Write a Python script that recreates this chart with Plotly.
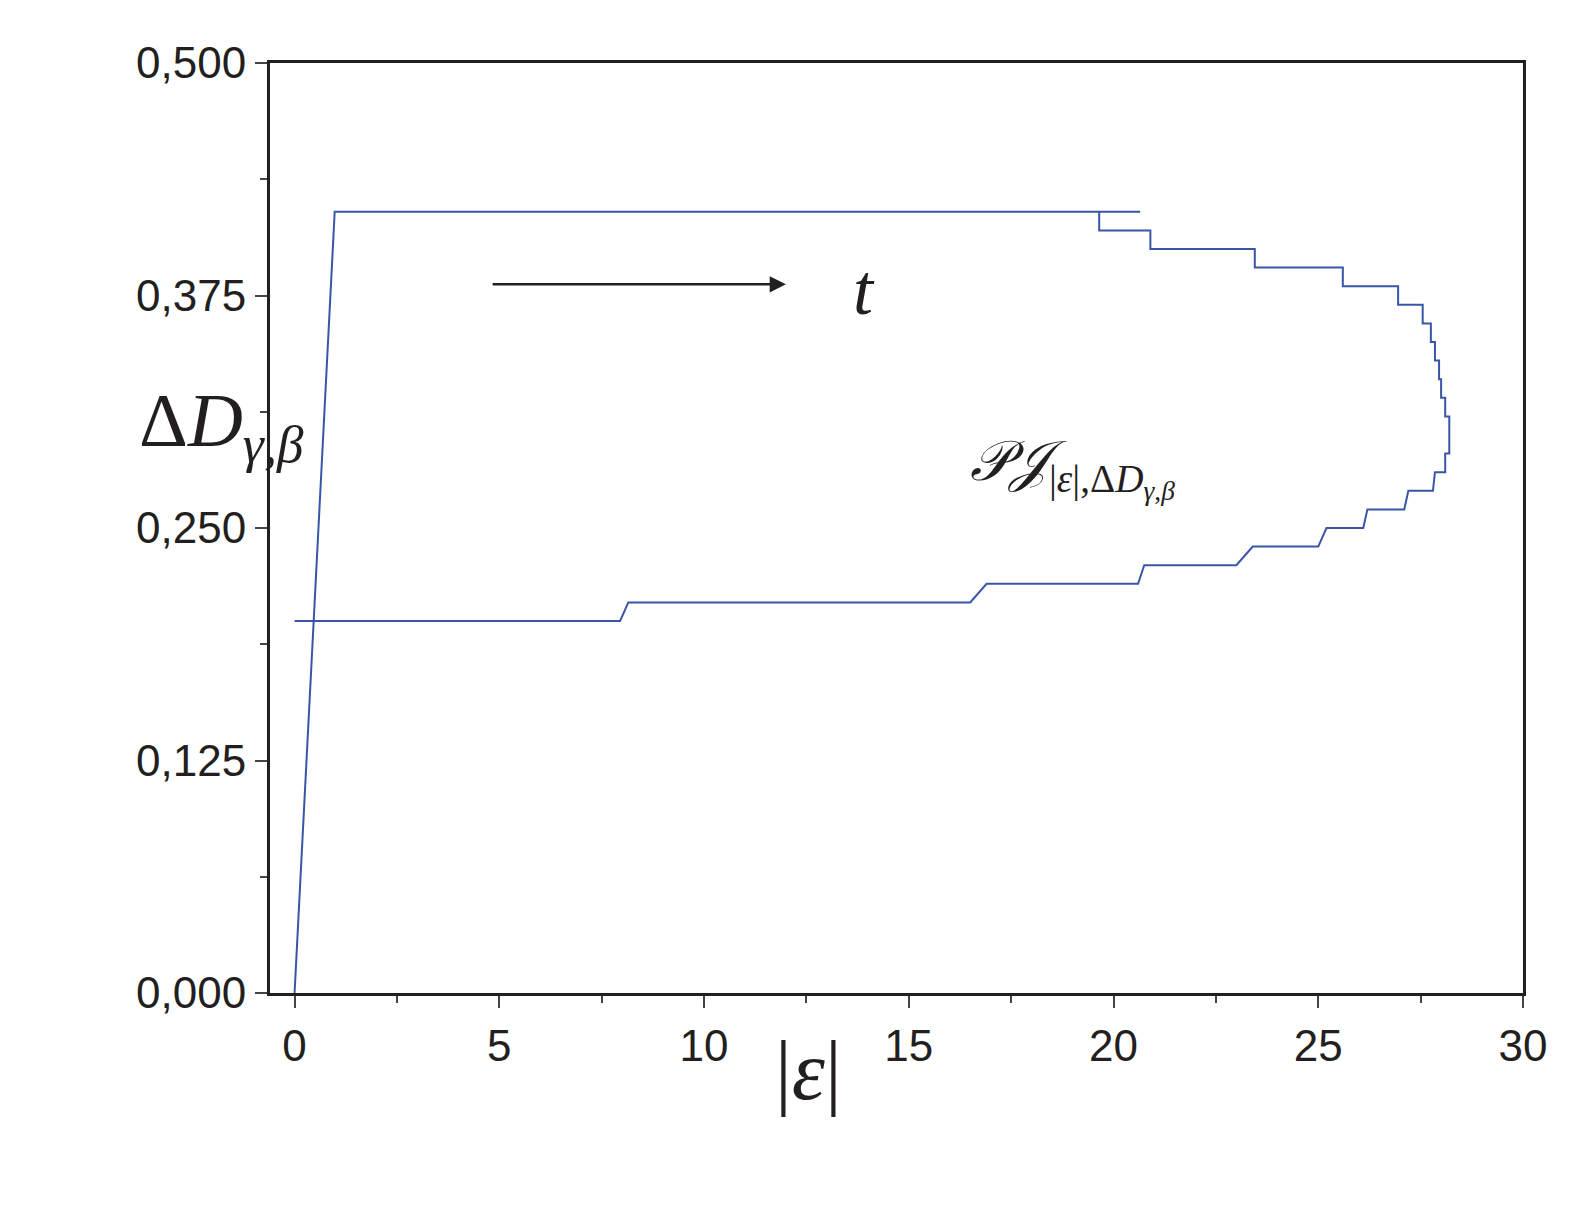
import plotly.graph_objects as go

# main rise + top plateau
rise_x = [0.0, 0.98, 20.65]
rise_y = [0.0, 0.42, 0.42]

# step path (top right, around, then back to left)
step_x = [19.65, 19.65, 20.9, 20.9, 23.45, 23.45, 25.6, 25.6, 26.95, 26.95, 27.55, 27.55,
          27.75, 27.75, 27.85, 27.85, 27.95, 27.95, 28.0, 28.0, 28.1, 28.1, 28.2, 28.2,
          28.1, 28.1, 27.85, 27.8, 27.2, 27.1, 26.2, 26.1, 25.2, 25.0, 23.4, 23.0,
          20.75, 20.6, 16.9, 16.5, 8.15, 7.95, 0.0]
step_y = [0.42, 0.41, 0.41, 0.40, 0.40, 0.39, 0.39, 0.38, 0.38, 0.37, 0.37, 0.36,
          0.36, 0.35, 0.35, 0.34, 0.34, 0.33, 0.33, 0.32, 0.32, 0.31, 0.31, 0.29,
          0.29, 0.28, 0.28, 0.27, 0.27, 0.26, 0.26, 0.25, 0.25, 0.24, 0.24, 0.23,
          0.23, 0.22, 0.22, 0.21, 0.21, 0.20, 0.20]

y_ticks = [0.0, 0.125, 0.25, 0.375, 0.5]
y_labels = ["0,000", "0,125", "0,250", "0,375", "0,500"]
x_ticks = [0, 5, 10, 15, 20, 25, 30]

fig = go.Figure()
line = dict(color="#3a55a8", width=2)
fig.add_trace(go.Scatter(x=rise_x, y=rise_y, mode="lines", line=line, showlegend=False))
fig.add_trace(go.Scatter(x=step_x, y=step_y, mode="lines", line=line, showlegend=False))

axfont = dict(family="Liberation Sans, Arial", size=44, color="#231f20")
fig.update_xaxes(range=[-0.6, 30], tickvals=x_ticks, ticks="outside", ticklen=12, tickwidth=2,
                 showline=True, linewidth=3, linecolor="#231f20", mirror=True, showgrid=False,
                 zeroline=False, tickfont=axfont,
                 minor=dict(tickvals=[2.5, 7.5, 12.5, 17.5, 22.5, 27.5], ticks="outside", ticklen=7, tickwidth=2))
fig.update_yaxes(range=[0, 0.5], tickvals=y_ticks, ticktext=y_labels, ticks="outside", ticklen=12, tickwidth=2,
                 showline=True, linewidth=3, linecolor="#231f20", mirror=True, showgrid=False,
                 zeroline=False, tickfont=axfont,
                 minor=dict(tickvals=[0.0625, 0.1875, 0.3125, 0.4375], ticks="outside", ticklen=7, tickwidth=2))

serif = "Liberation Serif, Times New Roman"
fig.add_annotation(x=12.0, y=0.381, ax=4.8, ay=0.381, xref="x", yref="y", axref="x", ayref="y",
                   text="", showarrow=True, arrowhead=2, arrowsize=1.3, arrowwidth=2.5, arrowcolor="#231f20")
fig.add_annotation(x=13.9, y=0.378, xref="x", yref="y", text="<i>t</i>", showarrow=False,
                   font=dict(family=serif, size=72, color="#231f20"))
fig.add_annotation(x=19.0, y=0.282, xref="x", yref="y",
                   text="<i>𝒫𝒥</i><sub>|<i>ε</i>|,Δ<i>D</i><sub><i>γ</i>,<i>β</i></sub></sub>",
                   showarrow=False, font=dict(family=serif, size=56, color="#231f20"))
fig.add_annotation(x=-0.106, y=0.61, xref="paper", yref="paper",
                   text="Δ<i>D</i><sub><i>γ</i>,<i>β</i></sub>", showarrow=False,
                   font=dict(family=serif, size=76, color="#231f20"))
fig.add_annotation(x=0.43, y=-0.135, xref="paper", yref="paper",
                   text="|<i>ε</i>|", showarrow=False,
                   font=dict(family=serif, size=84, color="#231f20"))

fig.update_layout(width=1586, height=1212, plot_bgcolor="white", paper_bgcolor="white",
                  margin=dict(l=262, r=71, t=55, b=227), showlegend=False)
fig.write_html("out.html")
